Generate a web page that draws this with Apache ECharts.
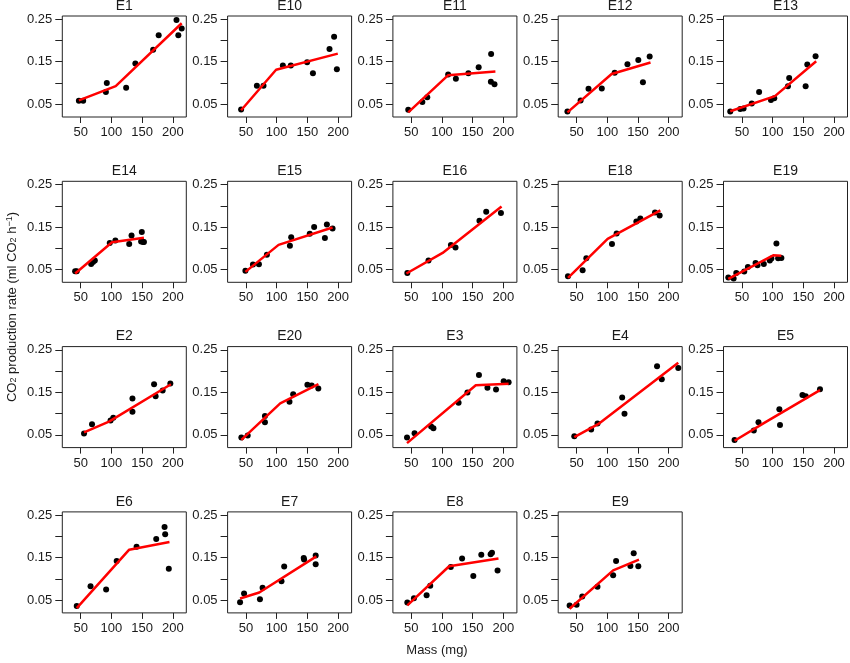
<!DOCTYPE html>
<html>
<head>
<meta charset="utf-8">
<script src="https://cdn.jsdelivr.net/npm/echarts@6/dist/echarts.min.js"></script>
<style>
html,body{margin:0;padding:0;background:#fff;}
#chart{width:850px;height:663px;}
</style>
</head>
<body>
<div id="chart"></div>
<script>
// Panel order (row-major, 5 columns)
const panelNames = ['E1','E10','E11','E12','E13','E14','E15','E16','E18','E19','E2','E20','E3','E4','E5','E6','E7','E8','E9'];

// Observed points [mass (mg), CO2 rate]
const E1_points = [[47,0.058],[54,0.058],[91,0.079],[92.5,0.100],[124,0.089],[139,0.146],[168,0.178],[177,0.212],[206,0.248],[209,0.212],[214.5,0.228]];
const E10_points = [[42,0.0374],[67.7,0.0933],[78.5,0.0933],[110,0.141],[123,0.141],[149.5,0.149],[159,0.123],[186,0.180],[193.5,0.209],[198,0.132]];
const E11_points = [[45,0.037],[68,0.055],[76,0.0665],[110,0.120],[122.6,0.110],[143,0.123],[159.7,0.137],[180,0.168],[179.6,0.103],[185.5,0.097]];
const E12_points = [[35,0.0327],[56.5,0.0587],[69.4,0.0862],[91,0.087],[112,0.124],[132.8,0.144],[150.5,0.154],[158,0.102],[169,0.162]];
const E13_points = [[31,0.0327],[47.3,0.039],[52.7,0.040],[66,0.0516],[78,0.079],[97.3,0.060],[102.7,0.064],[125,0.0925],[127,0.112],[153.8,0.0925],[156.5,0.1437],[170,0.163]];
const E14_points = [[40.9,0.046],[43.5,0.046],[67,0.063],[70,0.068],[73,0.071],[97.3,0.1123],[106.5,0.1185],[129,0.110],[132.8,0.130],[149.5,0.138],[148.4,0.116],[151.6,0.1145],[153,0.1145]];
const E15_points = [[49,0.047],[61.3,0.0617],[71,0.0625],[84,0.085],[121.5,0.106],[123.6,0.126],[153.8,0.134],[161,0.150],[178.5,0.124],[181.7,0.156],[191,0.1465]];
const E16_points = [[43.5,0.042],[78,0.071],[114.5,0.108],[122,0.102],[161,0.165],[172,0.186],[196,0.183]];
const E18_points = [[35.9,0.0344],[59.8,0.0484],[65.8,0.0765],[107.6,0.110],[115.2,0.135],[147.3,0.163],[153.8,0.170],[177.7,0.184],[185.3,0.177]];
const E19_points = [[27.8,0.0313],[36.5,0.029],[40.8,0.042],[53.8,0.0453],[59.7,0.0562],[72.2,0.0656],[75.4,0.060],[85.7,0.063],[95.4,0.071],[98,0.0757],[106.2,0.1115],[109,0.0765],[114.3,0.0772]];
const E2_points = [[55.4,0.053],[68.4,0.075],[98.6,0.0835],[103,0.090],[134.3,0.1356],[134.3,0.1045],[169.5,0.169],[172,0.141],[183.5,0.154],[196,0.1706]];
const E20_points = [[42.4,0.0438],[52.7,0.0484],[80.8,0.0944],[80.8,0.0796],[120.8,0.128],[126.8,0.1457],[150,0.1675],[157,0.166],[167.8,0.159]];
const E3_points = [[43,0.0438],[55.3,0.054],[82.3,0.0695],[86,0.0656],[127,0.1255],[141.4,0.1496],[160.2,0.191],[174,0.161],[188,0.1566],[200.5,0.176],[208.5,0.1737]];
const E4_points = [[46.2,0.0469],[73.7,0.0625],[84,0.0765],[124.2,0.138],[128,0.0998],[181,0.211],[188.7,0.1807],[215.6,0.207]];
const E5_points = [[38,0.038],[69.4,0.060],[77,0.0796],[111,0.110],[112,0.0733],[148.6,0.1434],[154,0.141],[177.2,0.157]];
const E6_points = [[43.5,0.036],[66,0.0828],[91.4,0.075],[108.6,0.142],[141,0.1758],[173,0.1937],[186.6,0.2219],[187.6,0.2047],[193.5,0.124]];
const E7_points = [[40.3,0.0453],[46.8,0.0656],[72.7,0.0523],[77,0.0789],[107.8,0.0945],[112.2,0.129],[144,0.149],[144.6,0.1453],[163.5,0.1547],[163.5,0.1344]];
const E8_points = [[43.5,0.0445],[54.3,0.0547],[74.9,0.0617],[80.8,0.0836],[114.3,0.128],[132.7,0.1477],[151,0.107],[164,0.157],[179.2,0.158],[181.4,0.1617],[190.5,0.1195]];
const E9_points = [[38.6,0.0375],[50,0.039],[59.2,0.0586],[84,0.0813],[109.5,0.1086],[114.3,0.142],[137.6,0.1305],[143,0.160],[150.5,0.1297]];

// Segmented fits: [start, breakpoint, end]
const E1_fit = [[47,0.059],[107,0.0925],[214.5,0.2405]];
const E10_fit = [[42,0.036],[99,0.131],[199.5,0.169]];
const E11_fit = [[45,0.031],[109.7,0.118],[187,0.127]];
const E12_fit = [[35,0.031],[107,0.121],[170.4,0.148]];
const E13_fit = [[31,0.0335],[103.8,0.069],[171,0.151]];
const E14_fit = [[41,0.0407],[101,0.114],[153,0.125]];
const E15_fit = [[49,0.0445],[103,0.108],[191,0.149]];
const E16_fit = [[42,0.0407],[101,0.089],[197,0.198]];
const E18_fit = [[36,0.0305],[100.5,0.122],[186.4,0.189]];
const E19_fit = [[27.8,0.028],[101,0.0835],[114.3,0.0825]];
const E2_fit = [[55.4,0.056],[96,0.081],[197,0.169]];
const E20_fit = [[42.4,0.0383],[105.7,0.124],[168,0.169]];
const E3_fit = [[43,0.0306],[155,0.1667],[208.5,0.170]];
const E4_fit = [[46.2,0.0445],[85,0.075],[215.6,0.2197]];
const E5_fit = [[38,0.036],[85,0.077],[177.2,0.155]];
const E6_fit = [[43.5,0.0313],[129,0.1687],[194.6,0.1867]];
const E7_fit = [[40.3,0.054],[71.6,0.068],[164.6,0.153]];
const E8_fit = [[43.5,0.0375],[111.6,0.1297],[192,0.1477]];
const E9_fit = [[38.6,0.0297],[109.5,0.120],[151.6,0.1453]];

// Axis ticks
const xTicks = [50,100,150,200];
const yTicks = [0.05,0.10,0.15,0.20,0.25];
const yTickLabels = [0.05,0.15,0.25];

const pointsByPanel = {E1:E1_points,E10:E10_points,E11:E11_points,E12:E12_points,E13:E13_points,E14:E14_points,E15:E15_points,E16:E16_points,E18:E18_points,E19:E19_points,E2:E2_points,E20:E20_points,E3:E3_points,E4:E4_points,E5:E5_points,E6:E6_points,E7:E7_points,E8:E8_points,E9:E9_points};
const fitByPanel = {E1:E1_fit,E10:E10_fit,E11:E11_fit,E12:E12_fit,E13:E13_fit,E14:E14_fit,E15:E15_fit,E16:E16_fit,E18:E18_fit,E19:E19_fit,E2:E2_fit,E20:E20_fit,E3:E3_fit,E4:E4_fit,E5:E5_fit,E6:E6_fit,E7:E7_fit,E8:E8_fit,E9:E9_fit};

const FONT = 'Liberation Sans, Arial, sans-serif';
const TXT = '#1a1a1a';
const L0 = 62.3, T0 = 16, PITCH_X = 165.3, PITCH_Y = 165.3, W = 124, H = 101;

const grids = [], xAxes = [], yAxes = [], series = [], titles = [];
panelNames.forEach((name, i) => {
  const c = i % 5, r = Math.floor(i / 5);
  const left = L0 + c * PITCH_X, top = T0 + r * PITCH_Y;
  grids.push({left: left, top: top, width: W, height: H, show: true, borderColor: '#222', borderWidth: 1, backgroundColor: 'transparent'});
  xAxes.push({
    type: 'value', gridIndex: i, min: 20, max: 222,
    axisLine: {show: false},
    axisTick: {show: true, length: 6, customValues: xTicks, lineStyle: {color: '#222'}},
    axisLabel: {show: true, customValues: xTicks, margin: 9, fontSize: 13, color: TXT, fontFamily: FONT},
    splitLine: {show: false}
  });
  yAxes.push({
    type: 'value', gridIndex: i, min: 0.020, max: 0.2575,
    axisLine: {show: false},
    axisTick: {show: true, length: 7, customValues: yTicks, lineStyle: {color: '#222'}},
    axisLabel: {show: true, customValues: yTickLabels, margin: 10, fontSize: 13, color: TXT, fontFamily: FONT,
      formatter: v => Number(v).toFixed(2)},
    splitLine: {show: false}
  });
  titles.push({
    text: name, left: left + W / 2, top: top - 17, textAlign: 'center', padding: 0,
    textStyle: {fontSize: 14, fontWeight: 'normal', color: TXT, fontFamily: FONT}
  });
  series.push({
    type: 'scatter', xAxisIndex: i, yAxisIndex: i, data: pointsByPanel[name],
    symbol: 'circle', symbolSize: 6, itemStyle: {color: '#000', opacity: 1}, z: 2, silent: true
  });
  series.push({
    type: 'line', xAxisIndex: i, yAxisIndex: i, data: fitByPanel[name],
    showSymbol: false, symbol: 'none', lineStyle: {color: '#ff0000', width: 2.5}, z: 3, silent: true
  });
});

const chart = echarts.init(document.getElementById('chart'), null, {renderer: 'canvas'});
chart.setOption({
  animation: false,
  backgroundColor: '#fff',
  title: titles,
  grid: grids,
  xAxis: xAxes,
  yAxis: yAxes,
  series: series,
  graphic: [
    {
      type: 'text', x: 12, y: 307, rotation: Math.PI / 2,
      style: {
        text: 'CO{sub|2} production rate (ml CO{sub|2} h{sup|−1})',
        fill: TXT, font: '13px ' + FONT, align: 'center', verticalAlign: 'middle',
        rich: {
          sub: {fontSize: 9, fontFamily: FONT, fill: TXT, verticalAlign: 'bottom', lineHeight: 9},
          sup: {fontSize: 9, fontFamily: FONT, fill: TXT, verticalAlign: 'top', lineHeight: 9}
        }
      }
    },
    {
      type: 'text', x: 437, y: 650,
      style: {text: 'Mass (mg)', fill: TXT, font: '13px ' + FONT, align: 'center', verticalAlign: 'middle'}
    }
  ]
});
</script>
</body>
</html>
